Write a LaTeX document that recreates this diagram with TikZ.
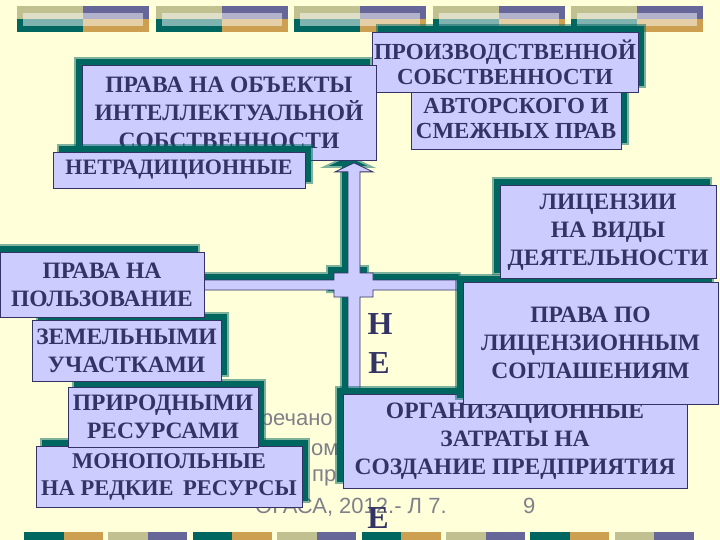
\documentclass[tikz,border=0pt]{standalone}
\usepackage{fontspec}
\setmainfont{Liberation Serif}
\newfontfamily\footfont{Liberation Sans}
\usepackage{tikz}
\usetikzlibrary{shapes,arrows,positioning,shadows,calc}

\definecolor{paper}{RGB}{255,255,217}
\definecolor{boxfill}{RGB}{204,204,255}
\definecolor{boxline}{RGB}{51,51,102}
\definecolor{shadeteal}{RGB}{0,102,96}
\definecolor{bartan}{RGB}{192,192,144}
\definecolor{barpurple}{RGB}{102,102,153}
\definecolor{barteal}{RGB}{0,102,96}
\definecolor{bargold}{RGB}{204,160,80}
\definecolor{footgray}{RGB}{128,128,140}

\pgfdeclarelayer{bg}
\pgfdeclarelayer{pipes}
\pgfsetlayers{bg,pipes,main}

\begin{document}
\begin{tikzpicture}[
        x=1pt, y=-1pt,
        box/.style = {rectangle, draw=boxline, fill=boxfill, text=boxline, line width=0.8pt,
            inner sep=0pt, align=center, font=\bfseries\fontsize{23.5}{28}\selectfont},
        tight/.style = {font=\bfseries\fontsize{23}{25}\selectfont},
        shade ul/.style = {
            general shadow={draw=shadeteal, line width=4pt, opacity=0.5, shadow xshift=-6pt, shadow yshift=6pt},
            general shadow={fill=shadeteal, shadow xshift=-6pt, shadow yshift=6pt}
        },
        shade ur/.style = {
            general shadow={draw=shadeteal, line width=4pt, opacity=0.5, shadow xshift=6pt, shadow yshift=6pt},
            general shadow={fill=shadeteal, shadow xshift=6pt, shadow yshift=6pt}
        },
        pipe/.style = {draw=boxline, fill=boxfill, line width=0.8pt, line join=miter},
        foot/.style = {inner sep=0pt, anchor=base west, text=footgray, font=\footfont\fontsize{22}{27}\selectfont},
        letter/.style = {inner sep=0pt, text=boxline, font=\bfseries\fontsize{32}{32}\selectfont}
    ]
    \useasboundingbox (0,0) rectangle (720,540);

    % page and bars
    \begin{pgfonlayer}{bg}
    \fill[paper] (0,0) rectangle (720,540);
    \foreach[evaluate=\i as \bx using 17+138.5*\i] \i in {0,...,4} {
        \fill[bartan] (\bx,6) rectangle ++(66,13);
        \fill[barpurple] (\bx+66,6) rectangle ++(66,13);
        \fill[barteal] (\bx,19) rectangle ++(66,13);
        \fill[bargold] (\bx+66,19) rectangle ++(66,13);
        \fill[white, opacity=0.5] (\bx+6,13) rectangle (\bx+126,26);
    }
    \foreach[evaluate=\i as \bx using 24+84.4*\i] \i/\ca/\cb in {0/barteal/bargold, 1/bartan/barpurple, 2/barteal/bargold, 3/bartan/barpurple,
            4/barteal/bargold, 5/bartan/barpurple, 6/barteal/bargold, 7/bartan/barpurple} {
        \fill[\ca] (\bx,532) rectangle ++(39.5,8);
        \fill[\cb] (\bx+39.5,532) rectangle ++(39.5,8);
    }
    \end{pgfonlayer}

    % footer
    \node[foot] (foot1) at (250,425) {Гречано};
    \node[foot] (foot2) at (311,455) {ом};
    \node[foot] (foot3) at (312,481) {пр};
    \node[foot] (foot4) at (255,513) {ОГАСА, 2012.- Л 7.};
    \node[foot] (foot5) at (523,513) {9};

    % letters
    \node[letter] (lettn) at (380,324) {Н};
    \node[letter] (lette) at (379,363) {Е};
    \node[letter] (lettend) at (378,518) {Е};

    %nodes
    \node[box, tight, shade ur, minimum width=210pt, minimum height=61pt] (author) at (516,118.5) {АВТОРСКОГО И\\СМЕЖНЫХ ПРАВ};
    \node[box, tight, shade ur, minimum width=266pt, minimum height=60pt] (prod) at (505,62) {ПРОИЗВОДСТВЕННОЙ\\СОБСТВЕННОСТИ};
    \node[box, shade ul, minimum width=294pt, minimum height=95pt] (objects) at (229,113) {ПРАВА НА ОБЪЕКТЫ\\ИНТЕЛЛЕКТУАЛЬНОЙ\\СОБСТВЕННОСТИ};
    \node[box, tight, shade ur, minimum width=252pt, minimum height=36pt, font=\bfseries\fontsize{22}{25}\selectfont] (nontrad) at (179,170) {НЕТРАДИЦИОННЫЕ};

    \node[box, shade ur, minimum width=266pt, minimum height=61pt, font=\bfseries\fontsize{22.5}{27}\selectfont] (monopoly) at (169,476.5) {МОНОПОЛЬНЫЕ\\НА РЕДКИЕ\hspace{4pt} РЕСУРСЫ};
    \node[box, shade ur, minimum width=190pt, minimum height=60pt] (nature) at (163,417) {ПРИРОДНЫМИ\\РЕСУРСАМИ};
    \node[box, shade ur, minimum width=189pt, minimum height=61pt] (land) at (126.5,350.5) {ЗЕМЕЛЬНЫМИ\\УЧАСТКАМИ};
    \node[box, shade ul, minimum width=204pt, minimum height=65pt] (use) at (102,284.5) {ПРАВА НА\\ПОЛЬЗОВАНИЕ};

    \node[box, shade ul, minimum width=344pt, minimum height=94pt] (org) at (515,441) {ОРГАНИЗАЦИОННЫЕ\\ЗАТРАТЫ НА\\СОЗДАНИЕ ПРЕДПРИЯТИЯ};
    \node[box, shade ul, minimum width=255pt, minimum height=122pt] (licagr) at (590.5,343) {ПРАВА ПО\\ЛИЦЕНЗИОННЫМ\\СОГЛАШЕНИЯМ};
    \node[box, shade ul, minimum width=216pt, minimum height=93pt] (licence) at (608,232) {ЛИЦЕНЗИИ\\НА ВИДЫ\\ДЕЯТЕЛЬНОСТИ};

    % pipes
    \begin{pgfonlayer}{pipes}
    \coordinate (hub) at (354,285);
    \draw[pipe, shade ul]
        ($(use.east |- hub)+(-2,-5)$) -- ($(hub)+(-20,-5)$) -- ++(0,-7) -- ++(14,0)
        -- ($(hub |- objects.south)+(-6,11)$) -- ++(-13,0) -- ($(hub |- objects.south)+(0,2)$)
        -- ($(hub |- objects.south)+(19,11)$) -- ++(-13,0) -- ($(hub)+(6,-12)$) -- ++(13,0) -- ++(0,7)
        -- ($(licagr.west |- hub)+(2,-5)$) -- ++(0,10) -- ($(hub)+(19,5)$) -- ++(0,7) -- ++(-13,0)
        -- ($(hub |- org.north)+(6,2)$) -- ++(-12,0) -- ($(hub)+(-6,12)$) -- ++(-14,0) -- ++(0,-7)
        -- ($(use.east |- hub)+(-2,5)$) -- cycle;
    \end{pgfonlayer}

\end{tikzpicture}
\end{document}
